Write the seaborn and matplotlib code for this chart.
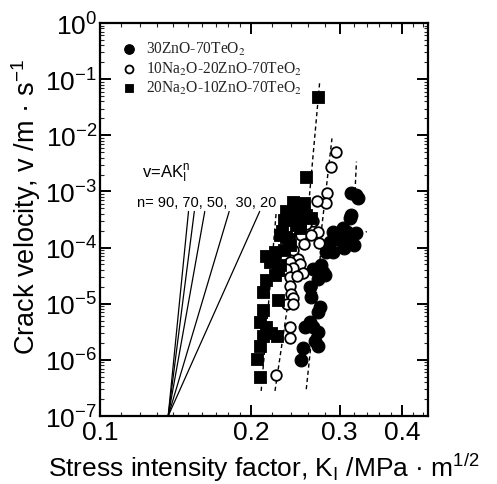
import numpy as np
import pandas as pd
import matplotlib
matplotlib.use("Agg")
import matplotlib.pyplot as plt
from matplotlib.font_manager import FontProperties
from matplotlib.ticker import FixedLocator, FuncFormatter, LogLocator, NullFormatter
import seaborn as sns

# ---------------- data ----------------
series_names = ["30ZnO-70TeO$_2$", "10Na$_2$O-20ZnO-70TeO$_2$", "20Na$_2$O-10ZnO-70TeO$_2$"]

fc_K = [0.3167, 0.3265, 0.3240, 0.3167, 0.3143, 0.3047, 0.2910, 0.3241, 0.3095, 0.3001,
        0.3200, 0.2867, 0.2910, 0.3063, 0.2820, 0.2655, 0.2760, 0.2780, 0.2716, 0.2800,
        0.2615, 0.2635, 0.2737, 0.2716, 0.2615, 0.2555, 0.2655, 0.2716, 0.2675, 0.2716,
        0.2531, 0.2516, 0.2960, 0.3100]
fc_v = [9.5e-4, 7.5e-4, 8.5e-4, 3.8e-4, 3.3e-4, 2.2e-4, 1.9e-4, 1.8e-4, 1.45e-4, 1.37e-4,
        1.1e-4, 1.26e-4, 8.3e-5, 9.8e-5, 8.3e-5, 4.2e-5, 4.8e-5, 3.7e-5, 2.8e-5, 3.2e-5,
        2.0e-5, 1.3e-5, 8.7e-6, 7.1e-6, 4.7e-6, 3.8e-6, 3.8e-6, 3.2e-6, 2.2e-6, 1.8e-6,
        1.6e-6, 1.0e-6, 1.6e-4, 1.9e-4]

oc_K = [0.2956, 0.2888, 0.2836, 0.2820, 0.2708, 0.2655, 0.2575, 0.2716, 0.2730, 0.2516,
        0.2635, 0.2543, 0.2420, 0.2478, 0.2385, 0.2497, 0.2420, 0.2350, 0.2531, 0.2385,
        0.2467, 0.2385, 0.2400, 0.2420, 0.2360, 0.2420, 0.2385, 0.2385, 0.2244]
oc_v = [5.1e-3, 2.7e-3, 9.5e-4, 6.1e-4, 6.8e-4, 3.0e-4, 2.6e-4, 1.9e-4, 1.2e-4, 1.66e-4,
        1.66e-4, 1.17e-4, 8.9e-5, 6.3e-5, 5.6e-5, 5.2e-5, 4.3e-5, 4.2e-5, 3.5e-5, 3.0e-5,
        3.1e-5, 2.1e-5, 1.5e-5, 1.26e-5, 1.0e-5, 1.0e-5, 3.8e-6, 2.5e-6, 5.4e-7]

sq_K = [0.2716, 0.2567, 0.2420, 0.2350, 0.2575, 0.2330, 0.2460, 0.2635, 0.2280, 0.2350,
        0.2226, 0.2176, 0.2280, 0.2226, 0.2143, 0.2110, 0.2260, 0.2110, 0.2078, 0.2143,
        0.2190, 0.2248, 0.2110, 0.2078, 0.2056, 0.2087, 0.2497, 0.2385, 0.2143, 0.2400,
        0.2500, 0.2450, 0.2300, 0.2380, 0.2320, 0.2220, 0.2260, 0.2525, 0.2550]
sq_v = [4.9e-2, 1.8e-3, 6.6e-4, 4.4e-4, 3.8e-4, 3.1e-4, 2.5e-4, 3.3e-4, 1.66e-4, 1.55e-4,
        8.3e-5, 5.6e-5, 4.8e-5, 3.2e-5, 2.6e-5, 1.6e-5, 1.15e-5, 7.6e-6, 4.7e-6, 3.8e-6,
        3.0e-6, 2.7e-6, 2.7e-6, 1.8e-6, 1.05e-6, 4.9e-7, 2.2e-4, 1.1e-4, 7.2e-5, 3.5e-4,
        3.0e-4, 4.0e-4, 2.0e-4, 1.4e-4, 9.0e-5, 6.5e-5, 4.0e-5, 5.5e-4, 6.2e-4]

# dashed trend segments: (K start, v start, K end, v end)
fit_segments = [
    (0.2094, 2.8e-7, 0.2244, 4.4e-4),
    (0.2567, 1.45e-4, 0.2737, 8.5e-2),
    (0.2231, 2.8e-7, 0.2440, 6.3e-5),
    (0.2763, 2.2e-4, 0.2897, 8.8e-3),
    (0.2575, 3.0e-7, 0.2763, 1.18e-4),
    (0.2906, 1.04e-4, 0.3398, 1.93e-4),
    (0.3215, 7.5e-4, 0.3241, 3.4e-3),
]

# reference power-law slopes v = A K^n
n_values = [90, 70, 50, 30, 20]
K_origin = 0.1367
v_origin = 1e-7
v_top = 4.4e-4

x_ticks = [0.1, 0.2, 0.3, 0.4]
x_ticklabels = ["0.1", "0.2", "0.3", "0.4"]

# ---------------- style ----------------
sns.set_theme(style="ticks")
plt.rcParams["font.family"] = ["Liberation Sans", "DejaVu Sans"]
plt.rcParams["mathtext.fontset"] = "custom"
plt.rcParams["mathtext.rm"] = "Liberation Sans"
plt.rcParams["mathtext.it"] = "Liberation Sans:italic"
plt.rcParams["mathtext.bf"] = "Liberation Sans:bold"

fig = plt.figure(figsize=(4.97, 4.85), dpi=100)
ax = fig.add_axes([0.2012, 0.1402, 0.660, 0.8103])

df = pd.concat([
    pd.DataFrame({"K": fc_K, "v": fc_v, "glass": series_names[0]}),
    pd.DataFrame({"K": oc_K, "v": oc_v, "glass": series_names[1]}),
    pd.DataFrame({"K": sq_K, "v": sq_v, "glass": series_names[2]}),
])

# dashed trend lines
for (k0, v0, k1, v1) in fit_segments:
    ax.plot([k0, k1], [v0, v1], color="black", lw=1.0, ls=(0, (3, 2.2)), zorder=1)

# power-law reference lines
for n in n_values:
    k_top = K_origin * (v_top / v_origin) ** (1.0 / n)
    ax.plot([K_origin, k_top], [v_origin, v_top], color="black", lw=0.9, zorder=1)

styles = [
    dict(marker="o", facecolor="black", edgecolor="black", s=85, linewidth=0.8),
    dict(marker="o", facecolor="white", edgecolor="black", s=58, linewidth=1.3),
    dict(marker="s", facecolor="black", edgecolor="black", s=66, linewidth=0.6),
]
for name, st in zip(series_names, styles):
    sns.scatterplot(data=df[df["glass"] == name], x="K", y="v", ax=ax, label=name,
                    marker=st["marker"], color=st["facecolor"], edgecolor=st["edgecolor"],
                    s=st["s"], linewidth=st["linewidth"], zorder=3)

ax.set_xscale("log")
ax.set_yscale("log")
ax.set_xlim(0.1, 0.45)
ax.set_ylim(1e-7, 1)

ax.xaxis.set_major_locator(FixedLocator(x_ticks))
ax.set_xticklabels(x_ticklabels)
ax.xaxis.set_minor_locator(FixedLocator(list(np.arange(0.11, 0.2, 0.01)) + list(np.arange(0.22, 0.45, 0.02))))
ax.xaxis.set_minor_formatter(NullFormatter())

ax.yaxis.set_major_locator(LogLocator(base=10, numticks=20))
ax.yaxis.set_minor_locator(LogLocator(base=10, subs=np.arange(2, 10), numticks=100))
ax.yaxis.set_minor_formatter(NullFormatter())
ax.yaxis.set_major_formatter(FuncFormatter(lambda y, p: "10$^{%d}$" % int(round(np.log10(y)))))

ax.tick_params(which="major", direction="in", length=8, width=1.4, top=True, right=True,
               labelsize=19, colors="black", pad=3)
ax.tick_params(which="minor", direction="in", length=3, width=0.8, top=True, right=True)
ax.tick_params(axis="y", which="major", pad=2)
for sp in ax.spines.values():
    sp.set_linewidth(1.6)
    sp.set_color("black")

ax.set_xlabel("Stress intensity factor, K$_\\mathrm{I}$ /MPa · m$^{1/2}$", fontsize=19,
              color="black")
ax.set_ylabel("Crack velocity, v /m · s$^{-1}$", fontsize=19.5, color="black")
ax.xaxis.set_label_coords(0.5, -0.088, transform=ax.transAxes)
ax.yaxis.set_label_coords(-0.175, 0.535, transform=ax.transAxes)

ax.text(0.1214, 1.85e-3, "v=AK$_\\mathrm{I}^\\mathrm{n}$", fontsize=12, color="black",
        va="baseline")
ax.text(0.1186, 5.4e-4, "n= 90, 70, 50,  30, 20", fontsize=10.5, color="black",
        va="baseline")

leg_font = FontProperties(family=["Liberation Serif", "DejaVu Serif"], size=11.2,
                          math_fontfamily="stix")
ax.legend(loc="upper left", bbox_to_anchor=(0.035, 0.98), frameon=False, prop=leg_font,
          handletextpad=0.6, labelspacing=0.16, borderaxespad=0.2, handlelength=1.0,
          markerscale=0.75)

fig.savefig("out.png", dpi=100)
